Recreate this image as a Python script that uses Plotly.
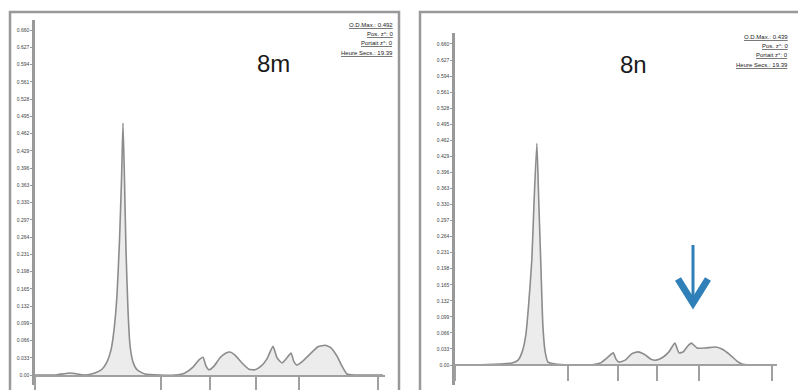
import plotly.graph_objects as go

W, H = 798, 390

# ---------------- data ----------------
# Panel 8m : retention time (min) and absorbance
t_m = [0.0, 2.0, 3.5, 5.0, 6.0, 6.7, 7.2, 7.6, 7.9, 8.2, 8.45, 8.65, 8.8, 8.95, 9.1, 9.3, 9.5, 9.8,
       10.2, 11.0, 12.5, 14.0, 15.0, 15.8, 16.4, 16.8, 17.1, 17.4, 17.9, 18.5, 19.1, 19.5, 20.0,
       20.7, 21.4, 22.0, 22.6, 23.2, 23.8, 24.2, 24.7, 25.2, 25.6, 25.9, 26.2, 26.8, 27.5, 28.3,
       29.0, 29.6, 30.2, 30.7, 31.2, 32.0, 34.8]
v_m = [0.000, 0.000, 0.004, 0.000, 0.004, 0.011, 0.025, 0.048, 0.086, 0.153, 0.258, 0.373, 0.482,
       0.373, 0.239, 0.124, 0.057, 0.025, 0.010, 0.002, 0.000, 0.000, 0.004, 0.015, 0.029, 0.034,
       0.017, 0.010, 0.017, 0.033, 0.042, 0.044, 0.038, 0.023, 0.011, 0.010, 0.017, 0.031, 0.055,
       0.033, 0.023, 0.033, 0.042, 0.025, 0.019, 0.027, 0.040, 0.054, 0.057, 0.052, 0.036, 0.017,
       0.002, 0.000, 0.000]

# Panel 8n
t_n = [0.0, 2.2, 4.9, 6.2, 6.85, 7.3, 7.7, 8.0, 8.35, 8.6, 8.9, 9.1, 9.35, 9.55, 9.8, 10.1, 10.9,
       12.5, 14.7, 15.8, 16.5, 17.2, 17.5, 17.8, 18.5, 19.2, 19.9, 20.65, 21.3, 21.85, 22.6, 23.25,
       23.9, 24.35, 24.8, 25.3, 25.7, 26.3, 27.2, 28.3, 29.0, 29.9, 30.65, 31.2, 32.0, 34.6]
v_n = [0.000, 0.000, 0.002, 0.004, 0.010, 0.027, 0.062, 0.123, 0.216, 0.339, 0.456, 0.339, 0.195,
       0.082, 0.027, 0.006, 0.002, 0.000, 0.000, 0.004, 0.014, 0.025, 0.012, 0.006, 0.010, 0.023,
       0.027, 0.021, 0.012, 0.010, 0.016, 0.027, 0.045, 0.025, 0.027, 0.039, 0.045, 0.035, 0.035,
       0.037, 0.033, 0.021, 0.008, 0.002, 0.000, 0.000]

y_tick_vals = [0.000, 0.033, 0.066, 0.099, 0.132, 0.165, 0.198, 0.231, 0.264, 0.297, 0.330,
               0.363, 0.396, 0.429, 0.462, 0.495, 0.528, 0.561, 0.594, 0.627, 0.660]
y_tick_text = ["0.00", "0.033", "0.066", "0.099", "0.132", "0.165", "0.198", "0.231", "0.264",
               "0.297", "0.330", "0.363", "0.396", "0.429", "0.462", "0.495", "0.528", "0.561",
               "0.594", "0.627", "0.660"]
x_ticks_m = [0, 12.6, 17.5, 22.1, 26.4, 34.3]
x_ticks_n = [0, 12.3, 17.7, 22.0, 26.5, 34.5]

info_m = ["<u>O.D.Max.: 0.492</u>", "<u>Pos. z°: 0</u>", "<u>Portait z°: 0</u>", "<u>Heure Secs.: 19.39</u>"]
info_n = ["<u>O.D.Max.: 0.439</u>", "<u>Pos. z°: 0</u>", "<u>Portait z°: 0</u>", "<u>Heure Secs.: 19.39</u>"]


def px(x):
    return x / W


def py(y):
    return 1 - y / H


GREY = "#8c8c8c"
AX = "#a0a0a0"

fig = go.Figure()
fig.add_trace(go.Scatter(x=t_m, y=v_m, mode="lines", xaxis="x", yaxis="y",
                         line=dict(color=GREY, width=1.6, shape="spline", smoothing=0.5),
                         fill="tozeroy", fillcolor="rgba(200,200,200,0.35)", hoverinfo="skip"))
fig.add_trace(go.Scatter(x=t_n, y=v_n, mode="lines", xaxis="x2", yaxis="y2",
                         line=dict(color=GREY, width=1.6, shape="spline", smoothing=0.5),
                         fill="tozeroy", fillcolor="rgba(200,200,200,0.35)", hoverinfo="skip"))

common_x = dict(range=[0, 35], showline=True, linecolor=AX, linewidth=1.5, ticks="outside",
                tickcolor=AX, tickwidth=1.5, showticklabels=False, showgrid=False,
                zeroline=False, anchor="free")
common_y = dict(showline=True, linecolor="#999", linewidth=2.5, ticks="outside", ticklen=2,
                tickcolor="#999", tickvals=y_tick_vals, ticktext=y_tick_text,
                tickfont=dict(size=5, color="#444", family="Liberation Sans"),
                showgrid=False, zeroline=False)

fig.update_layout(
    width=W, height=H, margin=dict(l=0, r=0, t=0, b=0),
    paper_bgcolor="white", plot_bgcolor="white", showlegend=False,
    xaxis=dict(common_x, domain=[px(35), px(385)], position=py(376), ticklen=14, tickvals=x_ticks_m),
    yaxis=dict(common_y, domain=[py(385), py(20)], range=[-0.0191, 0.6792], anchor="x"),
    xaxis2=dict(common_x, domain=[px(455), px(777)], position=py(365), ticklen=15, tickvals=x_ticks_n),
    yaxis2=dict(common_y, domain=[py(385), py(33)], range=[-0.0411, 0.6826], anchor="x2"),
)

shapes = [
    dict(type="rect", xref="paper", yref="paper", x0=px(10), x1=px(399), y0=py(400), y1=py(12),
         line=dict(color="#999", width=2.5), fillcolor="rgba(0,0,0,0)", layer="below"),
    dict(type="rect", xref="paper", yref="paper", x0=px(420), x1=px(805), y0=py(400), y1=py(12),
         line=dict(color="#999", width=2.5), fillcolor="rgba(0,0,0,0)", layer="below"),
    # blue arrow
    dict(type="line", xref="paper", yref="paper", x0=px(693), x1=px(693), y0=py(245), y1=py(300),
         line=dict(color="#2f80b8", width=3)),
    dict(type="path", xref="paper", yref="paper",
         path=f"M {px(678)},{py(279)} L {px(693)},{py(303)} L {px(708)},{py(279)}",
         line=dict(color="#2f80b8", width=7)),
]
fig.update_layout(shapes=shapes)

annots = [
    dict(text="8m", x=px(255), y=py(48), xref="paper", yref="paper", showarrow=False,
         font=dict(size=24, color="#1a1a1a", family="Liberation Sans")),
    dict(text="8n", x=px(649), y=py(49), xref="paper", yref="paper", showarrow=False,
         font=dict(size=24, color="#1a1a1a", family="Liberation Sans")),
]
for s, yy in zip(info_m, [20, 29, 38, 48]):
    annots.append(dict(text=s, x=px(395), y=py(yy), xref="paper", yref="paper", showarrow=False,
                       xanchor="right", font=dict(size=6, color="#222", family="Liberation Sans")))
for s, yy in zip(info_n, [32, 41, 50, 60]):
    annots.append(dict(text=s, x=px(790), y=py(yy), xref="paper", yref="paper", showarrow=False,
                       xanchor="right", font=dict(size=6, color="#222", family="Liberation Sans")))
fig.update_layout(annotations=annots)

fig.write_html("out.html")
